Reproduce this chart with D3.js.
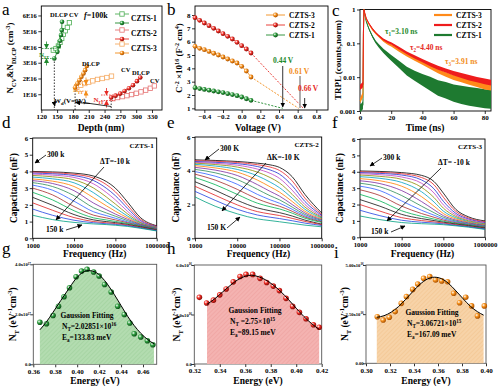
<!DOCTYPE html>
<html><head><meta charset="utf-8">
<script src="https://cdn.jsdelivr.net/npm/d3@7"></script>
<style>
body{margin:0;background:#fff}
text{font-family:"Liberation Serif","Times New Roman",serif}
</style></head><body>
<svg id="fig" width="500" height="387"></svg>
<script>
// ---- panel a : N_CV & N_DLCP vs depth ----
var cv1Depth = [142.8,147.9,152.4,155.5,158.7,161.9,165.7,169.5,173.3];
var cv1N     = [3.8,3.9,4.06,4.29,4.54,4.8,5.03,5.24,5.54];
var dl1Depth = [144.7,150.5,153,155.5,157.4,158.7,159.3];
var dl1N     = [3.27,3.69,4.06,4.39,4.76,5.07,5.6];
var cv2Depth = [255.8,264.7,273.6,282.4,291.3,300.2,309.1,318,326.9,334.5];
var cv2N     = [0.72,0.79,0.85,0.91,0.98,1.06,1.15,1.26,1.38,1.53];
var dl2Depth = [252.6,260.9,269.7,278,286.2,293.9,301.5,307.8];
var dl2N     = [0.79,0.91,1.04,1.21,1.38,1.57,1.83,2.06];
var cv3Depth = [187.3,194.9,202.5,210.1,217.7,226.6,235.5,244.4,253.2];
var cv3N     = [1.43,1.57,1.68,1.77,1.85,1.94,2.0,2.06,2.15];
var dl3Depth = [184.1,188.5,192.3,196.1,200,203.1,206.3];
var dl3N     = [1.43,1.68,1.89,2.11,2.32,2.53,2.79];

// ---- panel b : Mott-Schottky ----
var volts = [-0.5,-0.45,-0.4,-0.35,-0.3,-0.25,-0.2,-0.15,-0.1,-0.05,0,0.05,0.1];
var msCZTS2 = [7.8,7.6,7.4,7.2,7.0,6.8,6.6,6.4,6.2,5.95,5.7,5.45,5.15];
var msCZTS3 = [5.65,5.5,5.4,5.27,5.13,5.0,4.85,4.7,4.55,4.4,4.15,3.8,3.35];
var msCZTS1 = [2.55,2.48,2.42,2.36,2.3,2.24,2.18,2.1,2.03,1.95,1.85,1.72,1.6];
var vbi = {CZTS1: 0.44, CZTS3: 0.61, CZTS2: 0.66};

// ---- panel c : TRPL ----
var tTime = [0,1,1.9,2.2,2.5,3,4,5,6,8,10,12,15,18,20,25,30,35,40,45,50,55,60,65,70,75,80,84];
var plRed    = [0.005,0.0055,0.006,0.2,1.0,0.8,0.55,0.45,0.37,0.27,0.21,0.17,0.13,0.108,0.1,0.072,0.052,0.04,0.031,0.024,0.019,0.0158,0.013,0.0112,0.0096,0.0085,0.0075,0.0069];
var plOrange = [0.002,0.0025,0.003,0.2,1.0,0.78,0.52,0.42,0.35,0.25,0.195,0.16,0.12,0.097,0.087,0.062,0.045,0.034,0.026,0.02,0.015,0.012,0.0098,0.0085,0.0072,0.0062,0.0054,0.005];
var plGreen  = [0.0012,0.0013,0.0015,0.2,1.0,0.72,0.45,0.33,0.25,0.16,0.11,0.085,0.06,0.045,0.037,0.024,0.015,0.011,0.0083,0.0064,0.0048,0.0041,0.0034,0.003,0.0027,0.0025,0.0023,0.0022];
var noiseRed    = [0.2,0.2,0.2,0,0,0.03,0.03,0.03,0.04,0.05,0.05,0.06,0.07,0.08,0.08,0.1,0.1,0.12,0.12,0.14,0.15,0.15,0.17,0.18,0.2,0.2,0.22,0.22];
var noiseOrange = [0.2,0.2,0.2,0,0,0.03,0.03,0.03,0.04,0.05,0.05,0.06,0.07,0.08,0.08,0.1,0.1,0.12,0.12,0.14,0.15,0.16,0.18,0.2,0.2,0.22,0.24,0.24];
var noiseGreen  = [0.3,0.3,0.3,0,0,0.04,0.05,0.06,0.07,0.09,0.1,0.12,0.15,0.2,0.22,0.28,0.35,0.4,0.5,0.6,0.7,0.75,0.8,0.85,0.9,0.9,0.9,0.9];

// ---- panels d-f : C-f at 300 K .. 150 K ----
var freqs = [1000,3000,10000,30000,60000,100000,200000,400000,1000000];
var temps = [300,290,280,270,260,250,240,230,220,210,200,190,180,170,160,150];
var cfCZTS1 = [
  [4.00,3.97,3.90,3.72,3.40,3.00,2.15,1.25,0.75],
  [3.96,3.92,3.83,3.60,3.22,2.78,1.95,1.15,0.72],
  [3.90,3.86,3.75,3.45,3.00,2.55,1.78,1.07,0.70],
  [3.84,3.78,3.64,3.25,2.75,2.30,1.60,1.00,0.68],
  [3.76,3.68,3.50,3.00,2.48,2.05,1.45,0.95,0.66],
  [3.66,3.56,3.32,2.72,2.20,1.82,1.32,0.91,0.64],
  [3.55,3.42,3.10,2.42,1.95,1.62,1.22,0.87,0.62],
  [3.45,3.28,2.85,2.10,1.72,1.45,1.13,0.84,0.60],
  [3.33,3.10,2.55,1.82,1.52,1.32,1.05,0.81,0.58],
  [3.18,2.88,2.22,1.58,1.36,1.20,0.98,0.78,0.56],
  [3.00,2.60,1.90,1.38,1.22,1.10,0.93,0.75,0.54],
  [2.75,2.30,1.65,1.22,1.10,1.01,0.88,0.72,0.52],
  [2.45,1.98,1.42,1.10,1.00,0.94,0.83,0.69,0.50],
  [2.12,1.68,1.24,1.00,0.93,0.88,0.79,0.66,0.48],
  [1.75,1.38,1.08,0.93,0.87,0.83,0.75,0.63,0.46],
  [1.38,1.12,0.95,0.86,0.82,0.78,0.71,0.60,0.44]];
var cfCZTS2 = [
  [4.65,4.61,4.55,4.45,4.35,4.20,3.65,2.60,1.50],
  [4.60,4.56,4.49,4.36,4.22,4.02,3.40,2.38,1.42],
  [4.55,4.50,4.42,4.25,4.05,3.80,3.12,2.18,1.36],
  [4.50,4.44,4.33,4.10,3.85,3.55,2.85,2.00,1.30],
  [4.45,4.37,4.22,3.92,3.60,3.28,2.60,1.85,1.25],
  [4.38,4.28,4.08,3.70,3.33,3.00,2.38,1.72,1.20],
  [4.30,4.17,3.92,3.45,3.05,2.74,2.18,1.60,1.15],
  [4.20,4.04,3.72,3.18,2.78,2.50,2.00,1.50,1.10],
  [4.08,3.88,3.48,2.90,2.52,2.28,1.85,1.41,1.06],
  [3.95,3.68,3.20,2.60,2.28,2.08,1.72,1.33,1.02],
  [3.80,3.45,2.90,2.33,2.06,1.90,1.60,1.26,0.98],
  [3.60,3.18,2.60,2.08,1.87,1.74,1.49,1.19,0.94],
  [3.35,2.85,2.25,1.80,1.63,1.52,1.32,1.08,0.84],
  [3.08,2.55,1.98,1.58,1.44,1.35,1.18,1.00,0.80],
  [2.78,2.25,1.72,1.38,1.25,1.17,1.04,0.90,0.76],
  [2.45,1.90,1.45,1.15,1.05,0.98,0.88,0.78,0.68]];
var cfCZTS3 = [
  [4.05,4.02,3.95,3.78,3.40,2.70,1.70,1.25,1.00],
  [4.00,3.96,3.88,3.65,3.20,2.45,1.58,1.18,0.95],
  [3.95,3.90,3.80,3.50,2.95,2.20,1.46,1.12,0.90],
  [3.88,3.82,3.68,3.30,2.70,1.98,1.36,1.06,0.86],
  [3.80,3.72,3.54,3.05,2.42,1.78,1.27,1.01,0.82],
  [3.70,3.60,3.35,2.78,2.15,1.60,1.19,0.96,0.78],
  [3.58,3.45,3.12,2.48,1.90,1.45,1.12,0.92,0.75],
  [3.45,3.28,2.85,2.18,1.68,1.32,1.05,0.88,0.72],
  [3.30,3.08,2.55,1.90,1.50,1.22,0.99,0.84,0.69],
  [3.12,2.85,2.22,1.65,1.35,1.13,0.94,0.80,0.66],
  [2.90,2.55,1.90,1.45,1.22,1.05,0.89,0.77,0.63],
  [2.62,2.22,1.62,1.28,1.11,0.98,0.85,0.74,0.60],
  [2.30,1.90,1.40,1.14,1.02,0.92,0.81,0.71,0.57],
  [2.00,1.60,1.20,1.02,0.94,0.87,0.77,0.68,0.54],
  [1.65,1.32,1.04,0.92,0.87,0.82,0.73,0.65,0.51],
  [1.30,1.08,0.90,0.83,0.80,0.77,0.70,0.62,0.48]];
var cfColors = ['#000000','#e8252a','#1f2fd0','#c040c0','#8a8a00','#00a0c0','#ff7f00','#7b2a9e',
                '#2e8b57','#3060ff','#a52a2a','#00b050','#101010','#e02020','#2040e0','#00a080'];

// ---- panels g-i : defect density ----
var gE   = [0.366,0.372,0.378,0.383,0.388,0.393,0.399,0.404,0.409,0.415,0.420,0.425,0.431,0.437,0.443,0.448,0.452,0.458,0.464,0.469];
var gNt  = [1.68,1.62,1.95,2.32,2.70,3.06,3.50,3.73,3.80,3.69,3.53,3.19,2.89,2.32,1.99,1.65,1.22,1.09,0.94,0.78];
var gFitE = [0.366,0.372,0.378,0.385,0.392,0.398,0.404,0.410,0.416,0.422,0.428,0.434,0.440,0.446,0.452,0.458,0.464,0.470];
var gFit  = [1.38,1.7,2.08,2.55,3.0,3.38,3.64,3.75,3.7,3.5,3.18,2.78,2.35,1.92,1.55,1.24,1.0,0.82];
var hE   = [0.324,0.3297,0.335,0.340,0.345,0.3506,0.3559,0.3606,0.3658,0.3716,0.3768,0.382,0.3868,0.392,0.3972,0.4025,0.4077,0.4135,0.418];
var hNt  = [4.04,3.70,3.87,4.19,4.55,4.98,5.30,5.43,5.43,5.19,4.94,4.72,4.45,3.98,3.49,3.13,2.74,2.38,2.23];
var hFitE = [0.330,0.336,0.342,0.348,0.354,0.360,0.365,0.370,0.376,0.382,0.388,0.394,0.400,0.406,0.412,0.418];
var hFit  = [3.62,3.95,4.35,4.75,5.1,5.32,5.38,5.3,5.1,4.78,4.38,3.9,3.38,2.88,2.45,2.1];
var iE   = [0.3094,0.3143,0.3194,0.3243,0.3294,0.3337,0.3389,0.3431,0.348,0.3531,0.358,0.3631,0.368,0.3731,0.378,0.3831,0.388,0.3929,0.3986];
var iNt  = [2.37,2.20,2.34,2.63,3.05,3.39,3.76,4.03,4.32,4.41,4.24,4.19,4.15,3.56,3.08,3.36,2.92,2.41,2.92];
var iFitE = [0.309,0.315,0.321,0.327,0.333,0.339,0.345,0.351,0.357,0.363,0.369,0.375,0.381,0.387,0.393,0.398];
var iFit  = [2.34,2.42,2.6,2.88,3.25,3.65,4.02,4.28,4.38,4.3,4.05,3.68,3.28,2.9,2.62,2.45];

var GREEN = '#1f8a2e', RED = '#e62a24', ORANGE = '#f28c18';

var svg = d3.select('#fig');
var defs = svg.append('defs');

function ball(id, c, dark) {
  var gr = defs.append('radialGradient').attr('id', id).attr('cx', '35%').attr('cy', '35%').attr('r', '65%');
  gr.append('stop').attr('offset', '0%').attr('stop-color', '#fff');
  gr.append('stop').attr('offset', '45%').attr('stop-color', c);
  gr.append('stop').attr('offset', '100%').attr('stop-color', dark);
}
ball('bG', '#2fa040', '#0d4f18');
ball('bR', '#f03028', '#8a0c08');
ball('bO', '#f7931e', '#a95000');

// light fill with diagonal hatching for the N_T areas
function hatch(id, bg, ln) {
  var p = defs.append('pattern').attr('id', id).attr('patternUnits', 'userSpaceOnUse')
    .attr('width', 3).attr('height', 3).attr('patternTransform', 'rotate(45)');
  p.append('rect').attr('width', 3).attr('height', 3).attr('fill', bg);
  p.append('line').attr('x1', 0).attr('y1', 0).attr('x2', 0).attr('y2', 3)
    .attr('stroke', ln).attr('stroke-width', 0.8);
}
hatch('hG', '#b3dcb0', '#96cc92');
hatch('hR', '#f4b3b1', '#ec9896');
hatch('hO', '#f7d3a8', '#f0bc82');

function mk(id, col) {
  defs.append('marker').attr('id', id).attr('viewBox', '0 0 10 10').attr('refX', 9).attr('refY', 5)
    .attr('markerWidth', 5).attr('markerHeight', 5).attr('markerUnits', 'userSpaceOnUse')
    .attr('orient', 'auto-start-reverse')
    .append('path').attr('d', 'M0,0L10,5L0,10z').attr('fill', col);
}
mk('arr', '#000'); mk('arrG', GREEN); mk('arrO', ORANGE); mk('arrR', RED);

function arrow(x1, y1, x2, y2, col, m) {
  return svg.append('line').attr('x1', x1).attr('y1', y1).attr('x2', x2).attr('y2', y2)
    .attr('stroke', col || '#000').attr('stroke-width', 0.8).attr('marker-end', 'url(#' + (m || 'arr') + ')');
}

function label(x, y, s, fs, o) {
  o = o || {};
  return svg.append('text').attr('x', x).attr('y', y).attr('font-size', fs)
    .attr('font-weight', o.w || 'bold').attr('fill', o.c || '#000')
    .attr('text-anchor', o.a || 'start').text(s);
}

// parts: [[text, ''|'sub'|'sup'], ...]
function rich(t, parts, fs) {
  var shift = 0;
  parts.forEach(function(p) {
    var s = p[1] === 'sup' ? -0.38 * fs : p[1] === 'sub' ? 0.28 * fs : 0;
    t.append('tspan').attr('dy', s - shift).attr('font-size', p[1] ? fs * 0.68 : fs).text(p[0]);
    shift = s;
  });
  return t;
}

function richLabel(x, y, parts, fs, o) {
  o = o || {};
  var t = svg.append('text').attr('x', x).attr('y', y).attr('font-size', fs)
    .attr('font-weight', o.w || 'bold').attr('fill', o.c || '#000').attr('text-anchor', o.a || 'start');
  if (o.rot) t.attr('transform', 'rotate(-90,' + x + ',' + y + ')');
  return rich(t, parts, fs);
}

function axes(sx, sy, o) {
  var x0 = sx.range()[0], x1 = sx.range()[1], y0 = sy.range()[1], y1 = sy.range()[0];
  var gx = svg.append('g').attr('transform', 'translate(0,' + y1 + ')')
    .call(d3.axisBottom(sx).tickValues(o.xt).tickFormat(o.xf).tickSize(3).tickPadding(1.5));
  var gy = svg.append('g').attr('transform', 'translate(' + x0 + ',0)')
    .call(d3.axisLeft(sy).tickValues(o.yt).tickFormat(o.yf).tickSize(3).tickPadding(1.5));
  [gx, gy].forEach(function(g) {
    g.select('.domain').remove();
    g.selectAll('text').attr('font-size', o.fs || 7).attr('font-weight', 'bold').attr('fill', '#000');
    g.selectAll('line').attr('stroke', '#000').attr('stroke-width', 0.8);
  });
  gy.selectAll('text').attr('font-size', o.yfs || o.fs || 7);
  svg.append('rect').attr('x', x0).attr('y', y0).attr('width', x1 - x0).attr('height', y1 - y0)
    .attr('fill', 'none').attr('stroke', o.frame || '#000').attr('stroke-width', 0.9);
  return gy;
}

function zipXY(xs, ys) { return xs.map(function(x, i) { return [x, ys[i]]; }); }

// panel letters
[['a', 2, 15], ['b', 167, 15], ['c', 332, 16], ['d', 2, 128], ['e', 167, 128], ['f', 332, 128],
 ['g', 2, 254], ['h', 167, 254], ['i', 334, 258]].forEach(function(p) {
  label(p[1], p[2], p[0], 17, {w: 'normal'});
});

// ================= panel a =================
(function() {
  var sx = d3.scaleLinear().domain([120, 349]).range([41.3, 162]);
  var sy = d3.scaleLinear().domain([0, 6.6]).range([110, 6]);
  axes(sx, sy, {xt: [120,150,180,210,240,270,300,330], xf: d3.format('d'),
                yt: [1,2,3,4,5,6], yf: function(d) { return d + 'E16'; }, fs: 7, yfs: 6.5});
  var line = d3.line().x(function(d) { return sx(d[0]); }).y(function(d) { return sy(d[1]); });

  // W_d dashed drop lines
  [[dl1Depth[0], dl1N[0]], [dl3Depth[0], dl3N[0]], [dl2Depth[0], dl2N[0]]].forEach(function(p) {
    svg.append('line').attr('x1', sx(p[0])).attr('x2', sx(p[0])).attr('y1', sy(p[1])).attr('y2', sy(0))
      .attr('stroke', '#000').attr('stroke-width', 0.8).attr('stroke-dasharray', '1.5,1.5');
  });

  var series = [
    {x: cv1Depth, y: cv1N, c: '#4fae55', sq: true},
    {x: dl1Depth, y: dl1N, c: GREEN, b: 'bG'},
    {x: cv2Depth, y: cv2N, c: '#e57373', sq: true},
    {x: dl2Depth, y: dl2N, c: RED, b: 'bR'},
    {x: cv3Depth, y: cv3N, c: '#f5aa62', sq: true},
    {x: dl3Depth, y: dl3N, c: ORANGE, b: 'bO'}];
  series.forEach(function(s) {
    var pts = zipXY(s.x, s.y);
    svg.append('path').attr('d', line(pts)).attr('fill', 'none').attr('stroke', s.c).attr('stroke-width', 0.9);
    if (s.sq) {
      svg.selectAll(null).data(pts).enter().append('rect')
        .attr('x', function(d) { return sx(d[0]) - 2.2; }).attr('y', function(d) { return sy(d[1]) - 2.2; })
        .attr('width', 4.4).attr('height', 4.4).attr('fill', '#fff').attr('stroke', s.c).attr('stroke-width', 0.8);
    } else {
      svg.selectAll(null).data(pts).enter().append('circle')
        .attr('cx', function(d) { return sx(d[0]); }).attr('cy', function(d) { return sy(d[1]); })
        .attr('r', 2.3).attr('fill', 'url(#' + s.b + ')');
    }
  });

  // N_IT brackets
  function nit(x, yTop, yBot, xl, xr, col, m, lx, ly) {
    [yTop, yBot].forEach(function(yy) {
      svg.append('line').attr('x1', xl).attr('x2', xr).attr('y1', yy).attr('y2', yy)
        .attr('stroke', col).attr('stroke-width', 0.8).attr('stroke-dasharray', '1.5,1.2');
    });
    arrow(x, yTop - 7, x, yTop, col, m);
    arrow(x, yBot + 7, x, yBot, col, m);
    richLabel(lx, ly, [['N', ''], ['IT', 'sub']], 7, {c: col});
  }
  nit(46.5, sy(3.9), sy(3.27), 42, 56, GREEN, 'arrG', 39, sy(3.5) + 2);
  nit(86, sy(1.62), sy(1.2), 74, 88, ORANGE, 'arrO', 73, sy(1.35) + 3);
  nit(106.5, sy(0.95), sy(0.6), 101, 115, RED, 'arrR', 93.5, sy(0.72) + 3);

  // W_d label and arrows
  richLabel(54, 103, [['W', ''], ['d', 'sub'], ['(V=0V)', '']], 7);
  arrow(54, 102, sx(dl1Depth[0]) + 0.5, 106);
  svg.append('line').attr('x1', 83).attr('y1', 102.5).attr('x2', sx(dl2Depth[0])).attr('y2', 106.5)
    .attr('stroke', '#000').attr('stroke-width', 0.8);
  arrow(90, 103.5, sx(dl3Depth[0]) + 0.5, 102.5);

  label(50, 17, 'DLCP CV', 6.5);
  label(82, 66, 'DLCP', 6.5);
  label(121, 72, 'CV', 6.5);
  label(132, 75, 'DLCP', 6.5);
  label(150, 83, 'CV', 6.5);
  var ft = svg.append('text').attr('x', 84).attr('y', 18).attr('font-size', 8).attr('font-weight', 'bold');
  ft.append('tspan').attr('font-style', 'italic').text('f');
  ft.append('tspan').text('=100k');

  // legend
  [[14, '#4fae55', 1], [23, GREEN, 0, 'bG'], [30, '#e57373', 1], [39, RED, 0, 'bR'],
   [44, '#f5aa62', 1], [53, ORANGE, 0, 'bO']].forEach(function(r) {
    svg.append('line').attr('x1', 115).attr('x2', 129).attr('y1', r[0]).attr('y2', r[0])
      .attr('stroke', r[1]).attr('stroke-width', 0.9);
    if (r[2]) svg.append('rect').attr('x', 119.8).attr('y', r[0] - 2.2).attr('width', 4.4).attr('height', 4.4)
      .attr('fill', '#fff').attr('stroke', r[1]).attr('stroke-width', 0.8);
    else svg.append('circle').attr('cx', 122).attr('cy', r[0]).attr('r', 2.3).attr('fill', 'url(#' + r[3] + ')');
  });
  label(131, 21, 'CZTS-1', 7.5);
  label(131, 36, 'CZTS-2', 7.5);
  label(131, 51, 'CZTS-3', 7.5);

  label(101, 130.5, 'Depth (nm)', 9.5, {a: 'middle'});
  richLabel(13, 58, [['N', ''], ['CV', 'sub'], ['&N', ''], ['DLCP', 'sub'], [' (cm', ''], ['-3', 'sup'], [')', '']],
    9, {a: 'middle', rot: true});
})();

// ================= panel b =================
(function() {
  var sx = d3.scaleLinear().domain([-0.5, 0.925]).range([195, 328]);
  var sy = d3.scaleLinear().domain([0.875, 8.675]).range([110, 6]);
  axes(sx, sy, {xt: [-0.4,-0.2,0,0.2,0.4,0.6,0.8], xf: d3.format('.1f'),
                yt: [1,2,3,4,5,6,7,8], yf: d3.format('d'), fs: 7});
  var line = d3.line().x(function(d) { return sx(d[0]); }).y(function(d) { return sy(d[1]); });
  [[msCZTS2, RED, 'bR', vbi.CZTS2], [msCZTS3, ORANGE, 'bO', vbi.CZTS3], [msCZTS1, GREEN, 'bG', vbi.CZTS1]].forEach(function(s) {
    var pts = zipXY(volts, s[0]);
    var last = pts[pts.length - 1];
    svg.append('path').attr('d', line([last, [s[3], 1]])).attr('stroke', s[1]).attr('stroke-width', 0.9)
      .attr('stroke-dasharray', '2,1.5').attr('fill', 'none');
    svg.append('path').attr('d', line(pts)).attr('stroke', s[1]).attr('stroke-width', 0.9).attr('fill', 'none');
    svg.selectAll(null).data(pts).enter().append('circle')
      .attr('cx', function(d) { return sx(d[0]); }).attr('cy', function(d) { return sy(d[1]); })
      .attr('r', 2.4).attr('fill', 'url(#' + s[2] + ')');
  });
  label(273, 63, '0.44 V', 7.5, {c: GREEN});
  arrow(sx(vbi.CZTS1), 66, sx(vbi.CZTS1), 107);
  label(289, 74, '0.61 V', 7.5, {c: ORANGE});
  svg.append('line').attr('x1', sx(0.625)).attr('x2', sx(0.625)).attr('y1', 76).attr('y2', 108)
    .attr('stroke', '#999').attr('stroke-width', 1.6);
  label(298, 91, '0.66 V', 7.5, {c: RED});
  arrow(sx(0.675), 98, sx(0.675), 108);

  [[15, ORANGE, 'bO', 'CZTS-3'], [25, RED, 'bR', 'CZTS-2'], [35, GREEN, 'bG', 'CZTS-1']].forEach(function(r) {
    svg.append('line').attr('x1', 266).attr('x2', 285).attr('y1', r[0]).attr('y2', r[0])
      .attr('stroke', r[1]).attr('stroke-width', 0.9);
    svg.append('circle').attr('cx', 275.5).attr('cy', r[0]).attr('r', 2.4).attr('fill', 'url(#' + r[2] + ')');
    label(289, r[0] + 2.7, r[3], 7.5);
  });
  label(258, 130.5, 'Voltage (V)', 9.5, {a: 'middle'});
  richLabel(182, 58, [['C', ''], ['-2', 'sup'], [' \u00d710', ''], ['16', 'sup'], [' (F', ''], ['-2', 'sup'],
    [' cm', ''], ['4', 'sup'], [')', '']], 9, {a: 'middle', rot: true});
})();

// ================= panel c =================
(function() {
  var sx = d3.scaleLinear().domain([0, 84]).range([360, 491]);
  var sy = d3.scaleLog().domain([0.001, 1]).range([111, 9.5]);
  axes(sx, sy, {xt: [0,20,40,60,80], xf: d3.format('d'),
                yt: [0.001,0.01,0.1,1], yf: function(d) { return d >= 1 ? '1' : String(d); }, fs: 7});
  var area = d3.area().x(function(d) { return sx(d.t); })
    .y0(function(d) { return sy(d.v / (1 + d.n)); }).y1(function(d) { return sy(d.v * (1 + d.n)); });
  var line = d3.line().x(function(d) { return sx(d.t); }).y(function(d) { return sy(d.v); });
  [[plGreen, noiseGreen, '#1e7a30'], [plOrange, noiseOrange, '#ff8a1a'], [plRed, noiseRed, '#ee1c1c']].forEach(function(s) {
    var pts = tTime.map(function(t, i) { return {t: t, v: s[0][i], n: s[1][i]}; });
    svg.append('path').attr('d', area(pts)).attr('fill', s[2]).attr('stroke', 'none');
    svg.append('path').attr('d', line(pts)).attr('fill', 'none').attr('stroke', s[2]).attr('stroke-width', 1);
  });
  richLabel(385, 34, [['\u03c4', ''], ['1', 'sub'], ['=3.10 ns', '']], 7.5, {c: GREEN});
  richLabel(410, 50, [['\u03c4', ''], ['2', 'sub'], ['=4.40 ns', '']], 7.5, {c: RED});
  richLabel(445, 64, [['\u03c4', ''], ['3', 'sub'], ['=3.91 ns', '']], 7.5, {c: ORANGE});
  [[15, '#ff8a1a', 'CZTS-3'], [25, '#ee1c1c', 'CZTS-2'], [35, '#1e7a30', 'CZTS-1']].forEach(function(r) {
    svg.append('line').attr('x1', 434).attr('x2', 452).attr('y1', r[0]).attr('y2', r[0])
      .attr('stroke', r[1]).attr('stroke-width', 2.2);
    label(456, r[0] + 2.7, r[2], 7.5);
  });
  label(425, 130.5, 'Time (ns)', 9.5, {a: 'middle'});
  label(341, 60, 'TRPL (counts,norm)', 9, {a: 'middle'}).attr('transform', 'rotate(-90,341,60)');
})();

// ================= panels d, e, f =================
function cfPanel(data, x0, x1, y0, y1, yt, o) {
  var sx = d3.scaleLog().domain([1000, 1000000]).range([x0, x1]);
  var sy = d3.scaleLinear().domain([0, 6]).range([y1, y0]);
  axes(sx, sy, {xt: [1000,10000,100000,1000000], xf: d3.format('d'), yt: yt, yf: d3.format('d'), fs: 6.8});
  var line = d3.line().curve(d3.curveMonotoneX)
    .x(function(d) { return sx(d[0]); }).y(function(d) { return sy(d[1]); });
  data.forEach(function(row, i) {
    svg.append('path').attr('d', line(zipXY(freqs, row))).attr('fill', 'none')
      .attr('stroke', cfColors[i]).attr('stroke-width', 0.8);
  });
  label(x1 - 3, y0 + 10, o.name, 7, {a: 'end'});
  label(o.hot[0], o.hot[1], o.hotT, 7.5);
  arrow(o.hot[0] - 1, o.hot[1] - 2, o.hotA[0], o.hotA[1]);
  label(o.cold[0], o.cold[1], o.coldT, 7.5);
  arrow(o.cold[0] + 20, o.cold[1] - 2, o.coldA[0], o.coldA[1]);
  label(o.dT[0], o.dT[1], o.dTT, 7.5);
  arrow(o.dA[0], o.dA[1], o.dA[2], o.dA[3]);
  label((x0 + x1) / 2, 257, 'Frequency (Hz)', 9.5, {a: 'middle'});
  label(o.yl, (y0 + y1) / 2, 'Capacitance (nF)', 9.5, {a: 'middle'})
    .attr('transform', 'rotate(-90,' + o.yl + ',' + (y0 + y1) / 2 + ')');
}
cfPanel(cfCZTS1, 32.7, 156.7, 138, 238.3, [0,1,2,3,4,5,6],
  {name: 'CZTS-1', hot: [47, 157], hotA: [35, 163], hotT: '300 k', cold: [46, 232], coldA: [82, 225], coldT: '150 k',
   dT: [100, 164], dTT: '\u0394T=-10 k', dA: [104, 167, 56, 220], yl: 17});
cfPanel(cfCZTS2, 195, 321.7, 137, 238.3, [0,2,4,6],
  {name: 'CZTS-2', hot: [220, 151], hotA: [205, 160], hotT: '300 K', cold: [207, 230], coldA: [240, 217], coldT: '150 K',
   dT: [267, 160], dTT: '\u0394K=-10 K', dA: [266, 163, 222, 211], yl: 179});
cfPanel(cfCZTS3, 360, 485, 139, 237.3, [0,1,2,3,4,5,6],
  {name: 'CZTS-3', hot: [383, 160], hotA: [370, 166], hotT: '300 k', cold: [371, 234], coldA: [405, 226], coldT: '150 k',
   dT: [438, 165], dTT: '\u0394T= -10 k', dA: [441, 168, 387, 221], yl: 343});

// ================= panels g, h, i =================
function ntPanel(E, N, fitE, fit, o) {
  var sx = d3.scaleLinear().domain(o.xd).range([o.x0, o.x1]);
  var sy = d3.scaleLinear().domain([0, o.ymax]).range([o.y1, o.y0]);
  var gy = axes(sx, sy, {xt: o.xt, xf: d3.format('.2f'), yt: o.yt, yf: function() { return ''; }, fs: 7, frame: '#555'});
  gy.selectAll('.tick').each(function(d, i) {
    var t = d3.select(this).append('text').attr('x', -2.5).attr('y', 1.5).attr('text-anchor', 'end')
      .attr('font-size', 4.6).attr('font-weight', 'bold').attr('fill', '#000');
    rich(t, o.ylab[i], 4.6);
  });
  var pts = zipXY(fitE, fit);
  var area = d3.area().curve(d3.curveMonotoneX).x(function(d) { return sx(d[0]); })
    .y0(sy(0)).y1(function(d) { return sy(d[1]); });
  svg.append('path').attr('d', area(pts)).attr('fill', 'url(#' + o.fill + ')').attr('stroke', 'none');
  svg.selectAll(null).data(zipXY(E, N)).enter().append('circle')
    .attr('cx', function(d) { return sx(d[0]); }).attr('cy', function(d) { return sy(d[1]); })
    .attr('r', 2.8).attr('fill', 'url(#' + o.ball + ')');
  svg.append('path').attr('d', d3.line().curve(d3.curveMonotoneX)
      .x(function(d) { return sx(d[0]); }).y(function(d) { return sy(d[1]); })(pts))
    .attr('fill', 'none').attr('stroke', '#000').attr('stroke-width', 1);
  label(o.tx, o.ty, 'Gaussion Fitting', 7.5, {a: 'middle'});
  richLabel(o.tx - 25, o.ty + 11, o.nt, 7.5);
  richLabel(o.tx - 25, o.ty + 22, [['E', ''], ['a', 'sub'], [o.ea, '']], 7.5);
  label((o.x0 + o.x1) / 2, 384, 'Energy (eV)', 9.5, {a: 'middle'});
  richLabel(o.yl, (o.y0 + o.y1) / 2, [['N', ''], ['T', 'sub'], [' (eV', ''], ['-1', 'sup'], ['cm', ''], ['-3', 'sup'], [')', '']],
    9.5, {a: 'middle', rot: true});
}
ntPanel(gE, gNt, gFitE, gFit, {xd: [0.36, 0.4725], x0: 33.3, x1: 156.7, y0: 264.3, y1: 364.3, ymax: 4,
  xt: [0.36,0.38,0.40,0.42,0.44,0.46], yt: [0, 2, 4],
  ylab: [[['0.0', '']], [['2.0x10', ''], ['17', 'sup']], [['4.0x10', ''], ['17', 'sup']]],
  fill: 'hG', ball: 'bG', tx: 87, ty: 318, yl: 16,
  nt: [['N', ''], ['T', 'sub'], ['=2.02851\u00d710', ''], ['16', 'sup']], ea: '=133.83 meV'});
ntPanel(hE, hNt, hFitE, hFit, {xd: [0.32, 0.42], x0: 194.3, x1: 321.7, y0: 265, y1: 364, ymax: 6,
  xt: [0.32,0.34,0.36,0.38,0.40,0.42], yt: [0, 3, 6],
  ylab: [[['0.0', '']], [['3.0x10', ''], ['16', 'sup']], [['6.0x10', ''], ['16', 'sup']]],
  fill: 'hR', ball: 'bR', tx: 255, ty: 313, yl: 180,
  nt: [['N', ''], ['T', 'sub'], [' =2.75\u00d710', ''], ['15', 'sup']], ea: '=89.15 meV'});
ntPanel(iE, iNt, iFitE, iFit, {xd: [0.30, 0.40], x0: 366, x1: 486, y0: 265, y1: 363.3, ymax: 5,
  xt: [0.30,0.32,0.34,0.36,0.38,0.40], yt: [0, 2.5, 5],
  ylab: [[['0.00', '']], [['2.50x10', ''], ['16', 'sup']], [['5.00x10', ''], ['16', 'sup']]],
  fill: 'hO', ball: 'bO', tx: 432, ty: 315, yl: 348,
  nt: [['N', ''], ['T', 'sub'], ['=3.06721\u00d710', ''], ['15', 'sup']], ea: '=167.09 meV'});
</script></body></html>
